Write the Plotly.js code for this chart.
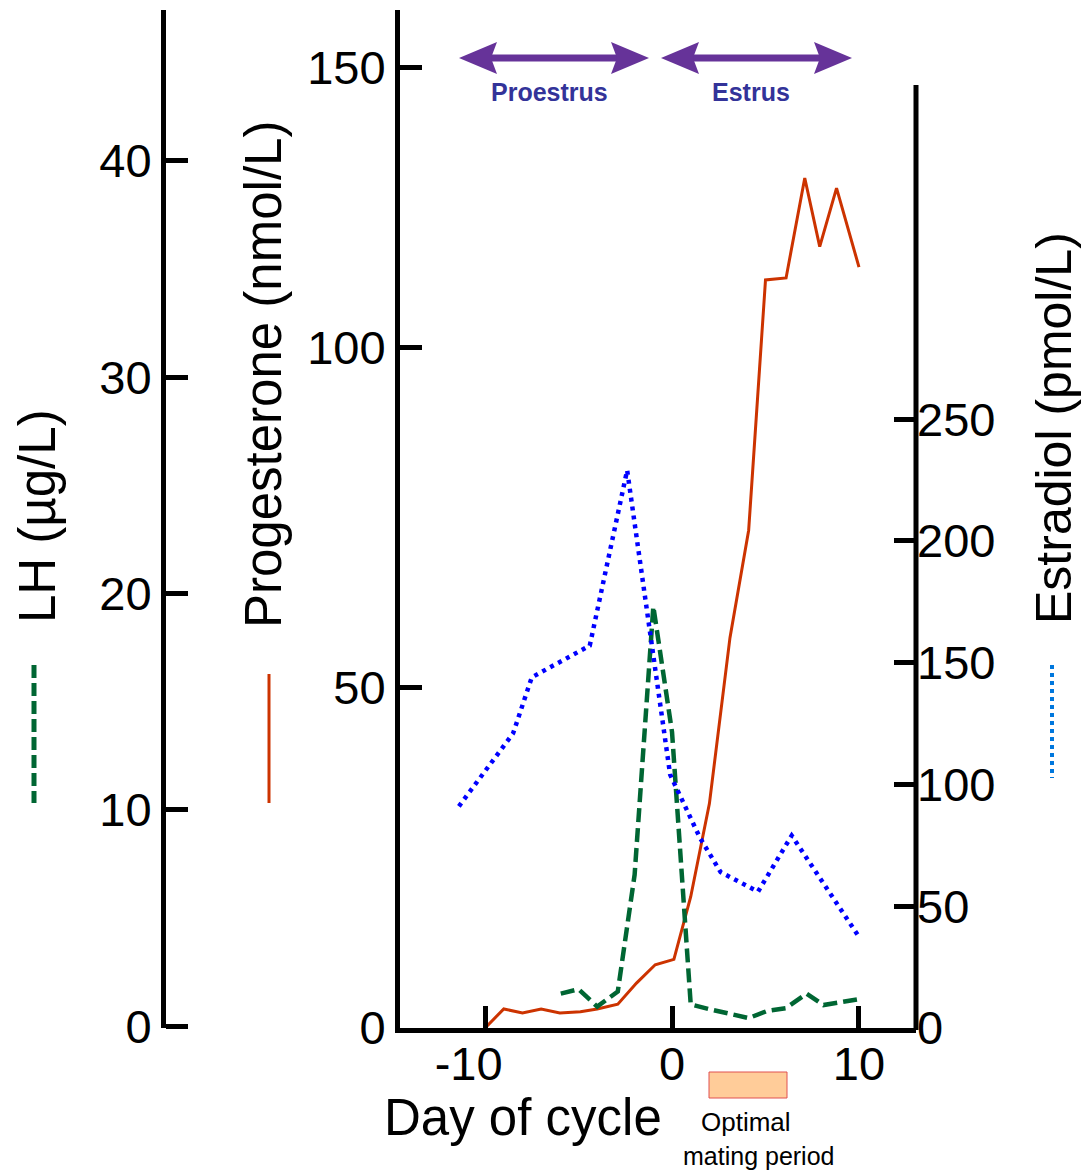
<!DOCTYPE html>
<html>
<head>
<meta charset="utf-8">
<script src="https://cdn.plot.ly/plotly-3.0.1.min.js"></script>
<style>html,body{margin:0;padding:0;background:#fff;}#chart{width:1085px;height:1175px;}</style>
</head>
<body>
<div id="chart"></div>
<script>
// ---- data ----
var dayProg = [-10, -9, -8, -7, -6, -4.9, -4, -2.9, -1.9, -0.9, 0.1, 1, 2, 3.1, 4.1, 5, 6.1, 7.1, 7.9, 8.8, 10];
var progesterone = [0, 2.8, 2.2, 2.8, 2.2, 2.4, 2.8, 3.5, 6.6, 9.3, 10.1, 19.3, 33, 57.4, 73.2, 110, 110.3, 125, 114.9, 123.5, 111.9];

var dayLH = [-5.95, -5.0, -4.0, -2.9, -2.0, -1.0, 0, 1.0, 2.0, 3.0, 4.1, 5.1, 6.1, 7.2, 8.1, 10.05];
var lh = [1.5, 1.7, 0.9, 1.6, 7.0, 19.4, 13.6, 1.0, 0.78, 0.6, 0.37, 0.7, 0.83, 1.5, 0.97, 1.25];

var dayE2 = [-11.4, -8.5, -7.5, -4.4, -2.4, -0.1, 1.5, 2.6, 4.6, 6.4, 9.95];
var estradiol = [91, 121, 144, 157, 229, 104, 78, 64, 56, 79, 38];

var xTicks = [-10, 0, 10];
var xTickText = ['-10\u2002\u2009', '0', '10'];
var progTicks = [0, 50, 100, 141.3];
var progTickText = ['0', '50', '100', '150'];
var lhTicks = [0, 10, 20, 30, 40];
var e2Ticks = [0, 50, 100, 150, 200, 250];

// ---- layout helpers (pixel -> paper) ----
var W = 1085, H = 1175;
function px(x){ return x / W; }
function py(y){ return 1 - y / H; }

var FONT = 'Liberation Sans, Arial, sans-serif';
var tickFont = {family: FONT, size: 47, color: '#000'};
var titleFont = {family: FONT, size: 51, color: '#000'};

var traces = [
  {x: dayProg, y: progesterone, type: 'scatter', mode: 'lines', yaxis: 'y',
   line: {color: '#cc3300', width: 3}, name: 'Progesterone'},
  {x: dayLH, y: lh, type: 'scatter', mode: 'lines', yaxis: 'y2',
   line: {color: '#006633', width: 4.5, dash: '14px,6px'}, name: 'LH'},
  {x: dayE2, y: estradiol, type: 'scatter', mode: 'lines', yaxis: 'y3',
   line: {color: '#0000ff', width: 4.5, dash: '4px,5px'}, name: 'Estradiol'}
];

var yDom = [py(1028), py(10)];

var axisCommon = {showgrid: false, zeroline: false, fixedrange: true, tickfont: tickFont,
  ticks: 'inside', ticklen: 22, tickwidth: 5, tickcolor: '#000', linecolor: '#000', linewidth: 5};

var layout = {
  width: W, height: H,
  margin: {l: 0, r: 0, t: 0, b: 0, pad: 0},
  paper_bgcolor: '#fff', plot_bgcolor: 'rgba(0,0,0,0)',
  showlegend: false,
  xaxis: Object.assign({}, axisCommon, {
    domain: [px(400), px(916)], range: [-14.55, 13.05],
    tickvals: xTicks, ticktext: xTickText, showline: true, anchor: 'y',
    ticklabelstandoff: -9
  }),
  yaxis: Object.assign({}, axisCommon, {
    domain: yDom, range: [0, 149.7], tickvals: progTicks, ticktext: progTickText,
    showline: true, anchor: 'x', side: 'left'
  }),
  yaxis2: Object.assign({}, axisCommon, {
    overlaying: 'y', anchor: 'free', position: px(163), side: 'left',
    range: [-0.09, 46.98], tickvals: lhTicks, showline: true
  }),
  yaxis3: Object.assign({}, axisCommon, {
    overlaying: 'y', anchor: 'free', position: px(916), side: 'right',
    range: [0, 418], tickvals: e2Ticks, showline: false
  }),
  shapes: [],
  annotations: []
};

// Estradiol axis line (shorter than the plot height)
layout.shapes.push({type: 'line', xref: 'paper', yref: 'paper', x0: px(916), x1: px(916), y0: py(85), y1: py(1030),
  line: {color: '#000', width: 5}});

// legend sample lines
layout.shapes.push({type: 'line', xref: 'paper', yref: 'paper', x0: px(34), x1: px(34), y0: py(665), y1: py(803),
  line: {color: '#006633', width: 5, dash: '13px,5px'}});
layout.shapes.push({type: 'line', xref: 'paper', yref: 'paper', x0: px(269), x1: px(269), y0: py(674), y1: py(803),
  line: {color: '#cc3300', width: 3}});
layout.shapes.push({type: 'line', xref: 'paper', yref: 'paper', x0: px(1052), x1: px(1052), y0: py(665), y1: py(778),
  line: {color: '#0077dd', width: 4, dash: '4px,4px'}});

// double arrows (Proestrus, Estrus)
var ARROW = '#663399';
function arrow(x0, x1, y){
  layout.shapes.push({type: 'line', xref: 'paper', yref: 'paper', x0: px(x0 + 30), x1: px(x1 - 30), y0: py(y), y1: py(y),
    line: {color: ARROW, width: 7}});
  function head(tip, dir){
    var b = tip + dir * 38, n = tip + dir * 32;
    var p = 'M ' + px(tip) + ' ' + py(y) + ' L ' + px(b) + ' ' + py(y - 16) + ' L ' + px(n) + ' ' + py(y) +
            ' L ' + px(b) + ' ' + py(y + 16) + ' Z';
    layout.shapes.push({type: 'path', xref: 'paper', yref: 'paper', path: p, fillcolor: ARROW, line: {width: 0}});
  }
  head(x0, 1); head(x1, -1);
}
arrow(459, 649, 58);
arrow(661, 852, 58);

// optimal mating period box
layout.shapes.push({type: 'rect', xref: 'paper', yref: 'paper', x0: px(709), x1: px(787), y0: py(1098), y1: py(1072),
  fillcolor: '#ffcc99', line: {color: '#e05050', width: 1}});

function ann(text, x, y, font, extra){
  layout.annotations.push(Object.assign({text: text, xref: 'paper', yref: 'paper', x: px(x), y: py(y),
    xanchor: 'center', yanchor: 'middle', showarrow: false, font: font}, extra || {}));
}
ann('LH (µg/L)', 37, 516, titleFont, {textangle: -90});
ann('Progesterone (nmol/L)', 263, 375, titleFont, {textangle: -90});
ann('Estradiol (pmol/L)', 1054, 428, {family: FONT, size: 50, color: '#000'}, {textangle: -90});
ann('Day of cycle', 523, 1117, titleFont);
ann('<b>Proestrus</b>', 549, 92, {family: FONT, size: 25, color: '#333399'});
ann('<b>Estrus</b>', 751, 92, {family: FONT, size: 25, color: '#333399'});
ann('Optimal', 746, 1122, {family: FONT, size: 26, color: '#000'});
ann('mating period', 759, 1156, {family: FONT, size: 25, color: '#000'});

Plotly.newPlot('chart', traces, layout, {displayModeBar: false, staticPlot: true});
</script>
</body>
</html>
